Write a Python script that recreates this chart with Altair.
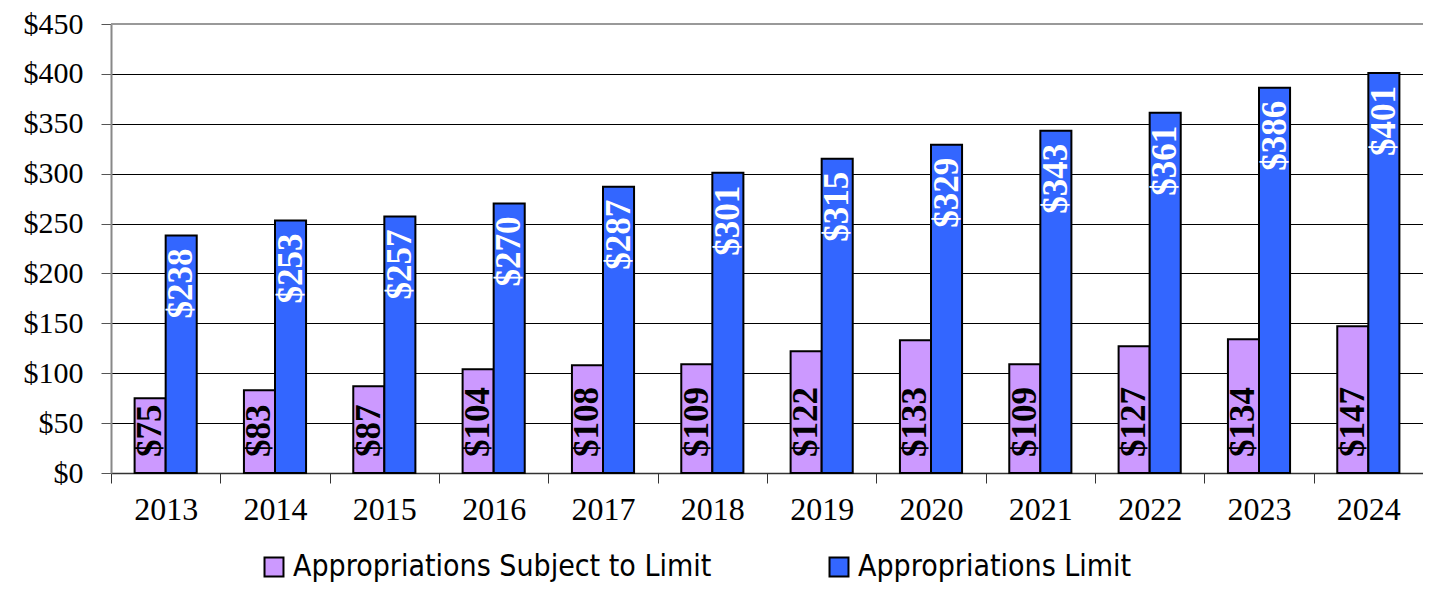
import altair as alt
import pandas as pd

years = [str(y) for y in range(2013, 2025)]
subject = [75, 83, 87, 104, 108, 109, 122, 133, 109, 127, 134, 147]
limit = [238, 253, 257, 270, 287, 301, 315, 329, 343, 361, 386, 401]
series = ["Appropriations Subject to Limit", "Appropriations Limit"]
colors = ["#CC99FF", "#3366FF"]
y_ticks = [0, 50, 100, 150, 200, 250, 300, 350, 400, 450]

rows = []
for i, y in enumerate(years):
    rows.append({"year": y, "series": series[0], "value": subject[i]})
    rows.append({"year": y, "series": series[1], "value": limit[i]})
df = pd.DataFrame(rows)

SERIF = "Liberation Serif"
LEG_FONT = "DejaVu Sans Condensed, Roboto, Open Sans"
W, H = 1312, 449

x_scale = alt.Scale(paddingInner=0, paddingOuter=0)
x_enc = alt.X(
    "year:N",
    sort=years,
    scale=x_scale,
    axis=alt.Axis(
        title=None, labelAngle=0, tickBand="extent", tickSize=10,
        tickColor="#333", domainColor="#333", domainWidth=1.5,
        labelFont=SERIF, labelFontSize=32, labelColor="black",
        labelPadding=11, grid=False,
    ),
)
y_enc = alt.Y(
    "value:Q",
    scale=alt.Scale(domain=[0, 450]),
    axis=alt.Axis(
        title=None, values=y_ticks, labelExpr="'$' + datum.value",
        grid=True, gridColor="black", gridWidth=1, tickSize=10,
        tickColor="#555", domainColor="#888", domainWidth=2,
        labelFont=SERIF, labelFontSize=30, labelColor="black",
        labelPadding=18,
    ),
)
xoff = alt.XOffset(
    "series:N", sort=series,
    scale=alt.Scale(paddingInner=0, paddingOuter=0.76),
)

base = alt.Chart(df)

bars = base.mark_bar(stroke="black", strokeWidth=2).encode(
    x=x_enc,
    y=y_enc,
    xOffset=xoff,
    color=alt.Color(
        "series:N",
        sort=series,
        scale=alt.Scale(domain=series, range=colors),
        legend=alt.Legend(
            title=None, orient="none", legendX=148, legendY=528,
            direction="horizontal", symbolType="square", symbolSize=360,
            symbolStrokeColor="black", symbolStrokeWidth=2,
            labelFont=LEG_FONT, labelFontSize=30, labelColor="black",
            labelLimit=0, columnPadding=112, labelOffset=4,
        ),
    ),
)

lab_sub = base.transform_filter(
    alt.datum.series == series[0]
).transform_calculate(label="'$' + datum.value").mark_text(
    angle=270, align="left", baseline="middle", dx=16,
    font=SERIF, fontSize=35, fontWeight="bold", color="black",
).encode(
    x=alt.X("year:N", sort=years), xOffset=xoff,
    y=alt.datum(0), text="label:N",
)

lab_lim = base.transform_filter(
    alt.datum.series == series[1]
).transform_calculate(label="'$' + datum.value").mark_text(
    angle=270, align="right", baseline="middle", dx=-13,
    font=SERIF, fontSize=35, fontWeight="bold", color="white",
).encode(
    x=alt.X("year:N", sort=years), xOffset=xoff,
    y="value:Q", text="label:N",
)

top_rule = alt.Chart(pd.DataFrame({"v": [450]})).mark_rule(
    color="#999", strokeWidth=2
).encode(y="v:Q")

chart = alt.layer(bars, top_rule, lab_sub, lab_lim).properties(
    width=W, height=H,
    autosize=alt.AutoSizeParams(type="none"),
    padding={"left": 103, "top": 16, "right": 0, "bottom": 113},
).configure_view(stroke=None)

chart.save("out.html", embed_options={"renderer": "svg", "actions": False})
